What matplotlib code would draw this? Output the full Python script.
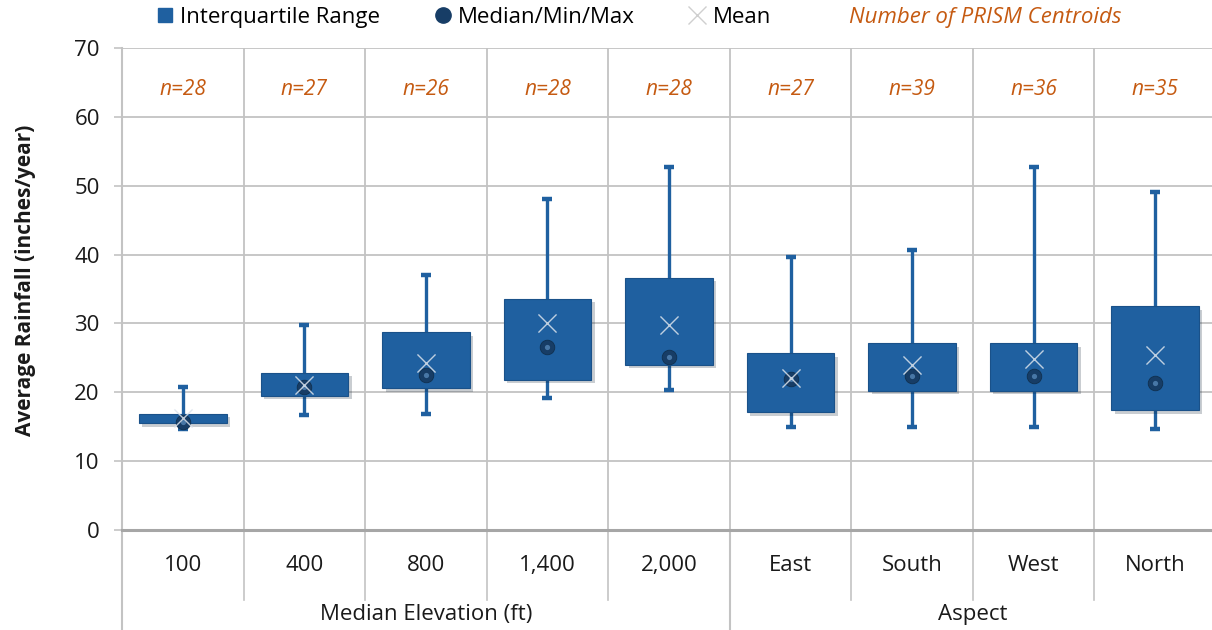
"""Box plot of average rainfall by elevation and aspect"""

import matplotlib
matplotlib.use("Agg")
import matplotlib.pyplot as plt
import matplotlib.patheffects as pe
import matplotlib.transforms as mtransforms
from matplotlib.lines import Line2D
import numpy as np

plt.rcParams['font.family'] = ['Open Sans', 'DejaVu Sans']

categories = ["100", "400", "800", "1,400", "2,000", "East", "South", "West", "North"]
groups = ["Median Elevation (ft)", "Aspect"]
group_sizes = [5, 4]

mins = [14.7, 16.7, 16.8, 19.1, 20.3, 15.0, 15.0, 15.0, 14.6]
q1 = [15.5, 19.5, 20.6, 21.8, 24.0, 17.1, 20.2, 20.2, 17.4]
medians = [15.7, 20.8, 22.5, 26.6, 25.1, 22.0, 22.3, 22.4, 21.3]
q3 = [16.9, 22.8, 28.7, 33.6, 36.6, 25.7, 27.1, 27.1, 32.5]
maxs = [20.7, 29.8, 37.0, 48.1, 52.7, 39.6, 40.7, 52.7, 49.1]
means = [16.2, 21.1, 24.2, 30.1, 29.8, 22.1, 24.0, 24.8, 25.4]
counts = [28, 27, 26, 28, 28, 27, 39, 36, 35]

box_color = "#1f60a0"
median_color = "#173d66"
mean_color = "#dbe3ec"
count_color = "#c55a11"
grid_color = "#c3c3c3"

fig = plt.figure(figsize=(12.12, 6.3), dpi=100)
ax = fig.add_axes([122 / 1212, 100 / 630, 1094 / 1212, 482 / 630])

x = np.arange(len(categories))
mins, q1, medians = np.array(mins), np.array(q1), np.array(medians)
q3, maxs, means = np.array(q3), np.array(maxs), np.array(means)

# whiskers (min to max) behind the boxes
ax.errorbar(x, medians, yerr=[medians - mins, maxs - medians], fmt="none",
            ecolor=box_color, elinewidth=2.4, capsize=3.8, capthick=3.2, zorder=2)

bars = ax.bar(x, q3 - q1, bottom=q1, width=0.72, color=box_color,
              edgecolor="#1a5189", linewidth=0.8, zorder=3)
for b in bars:
    b.set_path_effects([pe.SimplePatchShadow(offset=(2.5, -2.5), alpha=0.22),
                        pe.Normal()])

ax.scatter(x, medians, s=110, color=median_color, edgecolor="#10304f",
           linewidth=0.6, zorder=4)
ax.scatter(x, medians, s=14, color="#6a9fd2", alpha=0.6, linewidth=0, zorder=4)
ax.scatter(x, means, s=170, marker="x", color=mean_color, linewidth=1.0,
           alpha=0.85, zorder=5)

for xi, n in zip(x, counts):
    ax.text(xi, 64, f"n={n}", ha="center", va="center", color=count_color,
            fontsize=15, style="italic")

ax.set_xlim(-0.5, len(categories) - 0.5)
ax.set_ylim(0, 70)
ax.set_yticks(np.arange(0, 71, 10))
ax.set_xticks(x)
ax.set_xticklabels(categories)
ax.set_xticks(np.arange(-0.5, len(categories), 1), minor=True)
ax.tick_params(axis="x", which="both", length=0, pad=18, labelsize=16,
               labelcolor="#1a1a1a")
ax.tick_params(axis="y", length=6, width=1.2, color=grid_color, labelsize=16,
               labelcolor="#1a1a1a", pad=10)

ax.grid(axis="y", color=grid_color, linewidth=1.3, zorder=0)
ax.grid(axis="x", which="minor", color=grid_color, linewidth=1.3, zorder=0)
ax.set_axisbelow(True)
for side in ["top", "right"]:
    ax.spines[side].set_visible(False)
ax.spines["bottom"].set_color("#a6a6a6")
ax.spines["bottom"].set_linewidth(2.2)
ax.spines["left"].set_color(grid_color)
ax.spines["left"].set_linewidth(1.5)

# category separators below the axis
trans = mtransforms.blended_transform_factory(ax.transData, ax.transAxes)
edges = np.cumsum([0] + group_sizes) - 0.5
for b in np.arange(0.5, len(categories) - 0.5, 1):
    if b in edges:
        continue
    ax.plot([b, b], [0, -0.145], color=grid_color, lw=1.2, transform=trans,
            clip_on=False)
for b in edges[:-1]:
    ax.plot([b, b], [0, -0.21], color=grid_color, lw=1.5, transform=trans,
            clip_on=False)
for g, lo, hi in zip(groups, edges[:-1], edges[1:]):
    ax.text((lo + hi) / 2, -0.176, g, ha="center", va="center", fontsize=16,
            color="#1a1a1a", transform=trans)

fig.text(0.021, 0.555, "Average Rainfall (inches/year)", rotation=90,
         ha="center", va="center", fontsize=15, fontweight="bold", color="#1a1a1a")

handles = [
    Line2D([], [], marker="s", ls="none", color=box_color, ms=10),
    Line2D([], [], marker="o", ls="none", color=median_color, ms=11),
    Line2D([], [], marker="x", ls="none", color="#cfcfcf", ms=13, mew=1),
    Line2D([], [], ls="none"),
]
labels = ["Interquartile Range", "Median/Min/Max", "Mean", "Number of PRISM Centroids"]
leg = fig.legend(handles, labels, loc="center", bbox_to_anchor=(0.527, 0.972),
                 ncol=4, frameon=False, fontsize=16, handlelength=0.8,
                 handletextpad=0.3, columnspacing=2.4)
last = leg.get_texts()[-1]
last.set_color(count_color)
last.set_style("italic")

fig.savefig("out.png", dpi=100)
